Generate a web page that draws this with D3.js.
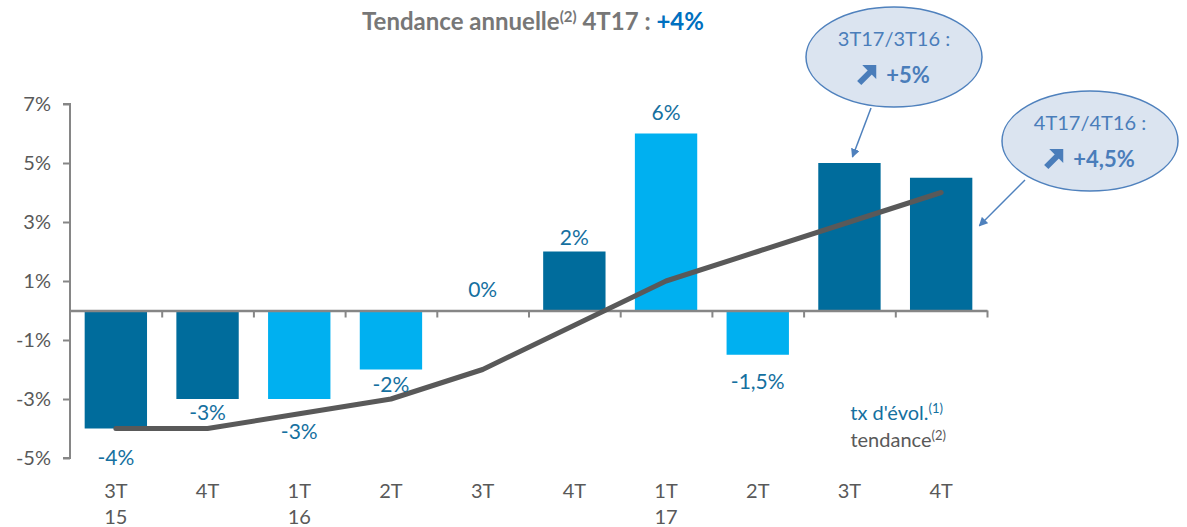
<!DOCTYPE html>
<html>
<head>
<meta charset="utf-8">
<script src="https://cdn.jsdelivr.net/npm/d3@7"></script>
<style>
  body { margin: 0; background: #fff; }
  svg { font-family: Lato, "Open Sans", sans-serif; }
</style>
</head>
<body>
<div id="chart"></div>
<script>
// Data
const quarters = ["3T", "4T", "1T", "2T", "3T", "4T", "1T", "2T", "3T", "4T"];
const years = ["15", "", "16", "", "", "", "17", "", "", ""];
const growth = [-4, -3, -3, -2, 0, 2, 6, -1.5, 5, 4.5];
const growthLabels = ["-4%", "-3%", "-3%", "-2%", "0%", "2%", "6%", "-1,5%", "", ""];
const trend = [-4, -4, -3.5, -3, -2, -0.5, 1, 2, 3, 4];
const yTicks = [-5, -3, -1, 1, 3, 5, 7];

const W = 1187, H = 527;
const dark = "#006C9C", light = "#00B0F0";
const labelBlue = "#1570A0", grey = "#595959", axisGrey = "#868686";
const bubbleStroke = "#4F81BD", bubbleFill = "#DBE4F0", bubbleText = "#4A7DBA";

const svg = d3.select("#chart").append("svg")
    .attr("width", W)
    .attr("height", H);

const defs = svg.append("defs");
defs.append("marker")
    .attr("id", "arrowhead")
    .attr("viewBox", "0 0 10 10")
    .attr("refX", 9).attr("refY", 5)
    .attr("markerWidth", 9).attr("markerHeight", 9)
    .attr("markerUnits", "userSpaceOnUse")
    .attr("orient", "auto")
    .append("path")
    .attr("d", "M0,0 L10,5 L0,10 z")
    .attr("fill", bubbleStroke);

// Scales
const x = d3.scaleBand()
    .domain(d3.range(quarters.length))
    .range([70, 987])
    .paddingInner(0.32)
    .paddingOuter(0.16);

const y = d3.scaleLinear()
    .domain([-5, 7])
    .range([458, 104]);

// Title
const title = svg.append("text")
    .attr("x", 533).attr("y", 30)
    .attr("text-anchor", "middle")
    .attr("font-size", 24)
    .attr("font-weight", "bold")
    .attr("fill", "#777777");
title.append("tspan").text("Tendance annuelle");
title.append("tspan").attr("font-size", 15).attr("dy", -8).text("(2)");
title.append("tspan").attr("dy", 8).text(" 4T17 : ");
title.append("tspan").attr("fill", "#0070C0").text("+4%");

// Bars
svg.selectAll(".bar")
    .data(growth)
    .enter()
    .append("rect")
    .attr("class", "bar")
    .attr("x", (d, i) => x(i))
    .attr("width", x.bandwidth())
    .attr("y", d => y(Math.max(0, d)))
    .attr("height", d => Math.abs(y(d) - y(0)))
    .attr("fill", (d, i) => (quarters[i] === "1T" || quarters[i] === "2T") ? light : dark);

// Y axis
const yAxis = d3.axisLeft(y)
    .tickValues(yTicks)
    .tickFormat(d => d + "%")
    .tickSize(7)
    .tickPadding(12);

const gy = svg.append("g")
    .attr("transform", "translate(70,0)")
    .call(yAxis);
gy.select(".domain").attr("stroke", axisGrey).attr("stroke-width", 2)
    .attr("d", `M-7,${y(7)}H0V${y(-5)}H-7`);
gy.selectAll(".tick line").attr("stroke", axisGrey).attr("stroke-width", 2);
gy.selectAll(".tick text")
    .attr("fill", grey)
    .attr("font-size", 20)
    .attr("font-family", "Lato, 'Open Sans', sans-serif");

// X axis (zero line with ticks between categories)
const xEdge = d3.scaleLinear().domain([0, quarters.length]).range([70, 987]);
const xAxis = d3.axisBottom(xEdge)
    .tickValues(d3.range(1, quarters.length + 1))
    .tickFormat("")
    .tickSize(7)
    .tickSizeOuter(0);
const gx = svg.append("g")
    .attr("transform", `translate(0,${y(0)})`)
    .call(xAxis);
gx.select(".domain").attr("stroke", axisGrey).attr("stroke-width", 2.5);
gx.selectAll(".tick line").attr("stroke", axisGrey).attr("stroke-width", 2);

// Category labels
const cx = i => x(i) + x.bandwidth() / 2;
svg.selectAll(".qlabel")
    .data(quarters)
    .enter()
    .append("text")
    .attr("class", "qlabel")
    .attr("x", (d, i) => cx(i))
    .attr("y", 498)
    .attr("text-anchor", "middle")
    .attr("font-size", 20)
    .attr("fill", grey)
    .text(d => d);

svg.selectAll(".ylabel")
    .data(years)
    .enter()
    .append("text")
    .attr("class", "ylabel")
    .attr("x", (d, i) => cx(i))
    .attr("y", 524)
    .attr("text-anchor", "middle")
    .attr("font-size", 20)
    .attr("fill", grey)
    .text(d => d);

// Trend line
const line = d3.line()
    .x((d, i) => cx(i))
    .y(d => y(d));

svg.append("path")
    .datum(trend)
    .attr("d", line)
    .attr("fill", "none")
    .attr("stroke", grey)
    .attr("stroke-width", 5)
    .attr("stroke-linecap", "round")
    .attr("stroke-linejoin", "round");

// Value labels (offsets chosen to avoid the trend line)
const labelDy = [36, 21, 40, 22, -14, -7, -14, 34, 0, 0];
svg.selectAll(".vlabel")
    .data(growth)
    .enter()
    .append("text")
    .attr("class", "vlabel")
    .attr("x", (d, i) => cx(i))
    .attr("y", (d, i) => y(d) + labelDy[i])
    .attr("text-anchor", "middle")
    .attr("font-size", 21)
    .attr("fill", labelBlue)
    .text((d, i) => growthLabels[i]);

// Legend
const leg1 = svg.append("text")
    .attr("x", 943).attr("y", 420)
    .attr("text-anchor", "end")
    .attr("font-size", 20)
    .attr("fill", labelBlue);
leg1.append("tspan").text("tx d'évol.");
leg1.append("tspan").attr("font-size", 13).attr("dy", -7).text("(1)");

const leg2 = svg.append("text")
    .attr("x", 946).attr("y", 447)
    .attr("text-anchor", "end")
    .attr("font-size", 20)
    .attr("fill", grey);
leg2.append("tspan").text("tendance");
leg2.append("tspan").attr("font-size", 13).attr("dy", -7).text("(2)");

// Callout bubbles
function upArrow(g, ax, ay) {
    g.append("path")
        .attr("d", `M${ax + 20},${ay} L${ax + 20},${ay + 14} L${ax + 6},${ay} Z`)
        .attr("fill", bubbleText);
    g.append("line")
        .attr("x1", ax + 3).attr("y1", ay + 18)
        .attr("x2", ax + 14).attr("y2", ay + 7)
        .attr("stroke", bubbleText)
        .attr("stroke-width", 6);
}

function bubble(bx, by, head, value) {
    const g = svg.append("g");
    g.append("ellipse")
        .attr("cx", bx).attr("cy", by)
        .attr("rx", 88).attr("ry", 50)
        .attr("fill", bubbleFill)
        .attr("stroke", bubbleStroke)
        .attr("stroke-width", 1.5);
    g.append("text")
        .attr("x", bx).attr("y", by - 11)
        .attr("text-anchor", "middle")
        .attr("font-size", 20)
        .attr("fill", bubbleText)
        .text(head);
    const v = g.append("text")
        .attr("x", bx + 14).attr("y", by + 26)
        .attr("text-anchor", "middle")
        .attr("font-size", 22)
        .attr("font-weight", "bold")
        .attr("fill", bubbleText)
        .text(value);
    const vw = v.node().getComputedTextLength();
    upArrow(g, bx + 14 - vw / 2 - 30, by + 8);
    return g;
}

bubble(894, 57, "3T17/3T16 :", "+5%");
bubble(1090, 141, "4T17/4T16 :", "+4,5%");

svg.append("line")
    .attr("x1", 871).attr("y1", 108)
    .attr("x2", cx(8) + 3).attr("y2", y(5) - 6)
    .attr("stroke", bubbleStroke)
    .attr("stroke-width", 1.5)
    .attr("marker-end", "url(#arrowhead)");

svg.append("line")
    .attr("x1", 1025).attr("y1", 180)
    .attr("x2", x(9) + x.bandwidth() + 7).attr("y2", y(4.5) + 48)
    .attr("stroke", bubbleStroke)
    .attr("stroke-width", 1.5)
    .attr("marker-end", "url(#arrowhead)");
</script>
</body>
</html>
